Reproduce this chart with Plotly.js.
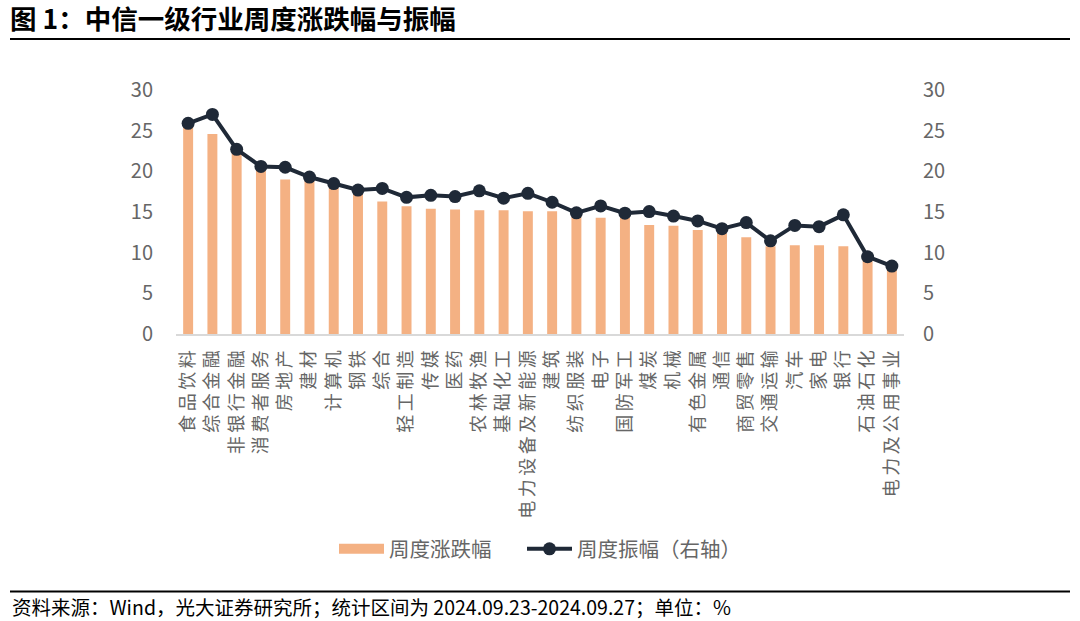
<!DOCTYPE html>
<html>
<head>
<meta charset="utf-8">
<script src="https://cdn.plot.ly/plotly-3.0.1.min.js"></script>
<style>
  html, body { margin: 0; padding: 0; background: #fff; }
  #chart { width: 1080px; height: 621px; }
</style>
</head>
<body>
<div id="chart"></div>
<script>
const categories = ['食品饮料','综合金融','非银行金融','消费者服务','房地产','建材','计算机','钢铁','综合','轻工制造','传媒','医药','农林牧渔','基础化工','电力设备及新能源','建筑','纺织服装','电子','国防军工','煤炭','机械','有色金属','通信','商贸零售','交通运输','汽车','家电','银行','石油石化','电力及公用事业'];
const weeklyChange = [25.5, 24.6, 22.4, 20.4, 19.0, 18.9, 18.0, 17.3, 16.3, 15.7, 15.4, 15.3, 15.2, 15.2, 15.1, 15.1, 14.6, 14.3, 14.3, 13.4, 13.3, 12.8, 12.4, 11.9, 10.8, 10.9, 10.9, 10.8, 9.2, 8.1];
const weeklyAmplitude = [25.9, 27.0, 22.7, 20.6, 20.5, 19.3, 18.5, 17.7, 17.9, 16.8, 17.05, 16.9, 17.6, 16.7, 17.3, 16.2, 14.9, 15.75, 14.85, 15.05, 14.5, 13.9, 12.95, 13.7, 11.45, 13.35, 13.2, 14.65, 9.5, 8.35];
const seriesNames = ['周度涨跌幅', '周度振幅（右轴）'];
const titleText = '图 1：中信一级行业周度涨跌幅与振幅';
const sourceText = '资料来源：Wind，光大证券研究所；统计区间为 2024.09.23-2024.09.27；单位：%';

const FONT = '"Noto Sans CJK SC", "Noto Sans", sans-serif';
const BAR_COLOR = '#F4B183';
const LINE_COLOR = '#1F2937';
const TICK_COLOR = '#666666';

const W = 1080, H = 621;
const L = 176, R = 176, T = 90, B = 287;
const pw = W - L - R, ph = H - T - B;
const px = x => (x - L) / pw;
const py = y => (H - B - y) / ph;

const traces = [
  {
    type: 'bar', x: categories, y: weeklyChange, name: seriesNames[0],
    marker: { color: BAR_COLOR }, showlegend: false, legendgroup: 'a',
    hoverinfo: 'x+y'
  },
  {
    type: 'scatter', mode: 'lines', x: [null], y: [null], name: seriesNames[0],
    line: { color: BAR_COLOR, width: 13 }, legendgroup: 'a', showlegend: true, legend: 'legend'
  },
  {
    type: 'scatter', mode: 'lines+markers', x: categories, y: weeklyAmplitude, name: seriesNames[1],
    yaxis: 'y2', line: { color: LINE_COLOR, width: 4 },
    marker: { color: LINE_COLOR, size: 13 }, legend: 'legend2'
  }
];

const legendBase = {
  orientation: 'h', xanchor: 'left', yanchor: 'middle',
  font: { family: FONT, size: 20.5, color: TICK_COLOR },
  itemwidth: 45, bgcolor: 'rgba(0,0,0,0)'
};

const layout = {
  width: W, height: H,
  margin: { l: L, r: R, t: T, b: B, pad: 0 },
  paper_bgcolor: '#ffffff', plot_bgcolor: '#ffffff',
  font: { family: FONT, color: TICK_COLOR },
  bargap: 0.59,
  showlegend: true,
  legend: Object.assign({}, legendBase, { x: px(334), y: py(549) }),
  legend2: Object.assign({}, legendBase, { x: px(522), y: py(549) }),
  title: {
    text: '<b>' + titleText + '</b>',
    xref: 'container', yref: 'container',
    x: 10 / W, xanchor: 'left', y: 1 - 20 / H, yanchor: 'middle',
    font: { family: FONT, size: 26.5, color: '#000000' }
  },
  xaxis: {
    type: 'category', range: [-0.5, categories.length - 0.5],
    showline: true, linecolor: '#D9D9D9', linewidth: 1.5,
    showgrid: false, zeroline: false, ticks: '', tickangle: -90,
    tickfont: { family: FONT, size: 18, color: TICK_COLOR },
    ticklabelstandoff: 4, fixedrange: true
  },
  yaxis: {
    range: [0, 30], dtick: 5, showgrid: false, zeroline: false, showline: false,
    ticks: '', tickfont: { family: FONT, size: 20, color: TICK_COLOR },
    ticklabelstandoff: 22, fixedrange: true
  },
  yaxis2: {
    range: [0, 30], dtick: 5, overlaying: 'y', side: 'right',
    showgrid: false, zeroline: false, showline: false,
    ticks: '', tickfont: { family: FONT, size: 20, color: TICK_COLOR },
    ticklabelstandoff: 18, fixedrange: true
  },
  shapes: [
    { type: 'line', xref: 'paper', yref: 'paper', x0: px(10), x1: px(1070), y0: py(39), y1: py(39),
      line: { color: '#000000', width: 2 } },
    { type: 'line', xref: 'paper', yref: 'paper', x0: px(10), x1: px(1070), y0: py(591.5), y1: py(591.5),
      line: { color: '#000000', width: 2 } }
  ],
  annotations: [
    { text: sourceText, xref: 'paper', yref: 'paper', x: px(10), y: py(606), xanchor: 'left', yanchor: 'middle',
      showarrow: false, font: { family: FONT, size: 19.5, color: '#000000' } }
  ]
};

Plotly.newPlot('chart', traces, layout, { displayModeBar: false, staticPlot: true }).then(() => {
  document.querySelectorAll('.xtick text').forEach(t => { t.style.letterSpacing = '3.5px'; });
});
</script>
</body>
</html>
